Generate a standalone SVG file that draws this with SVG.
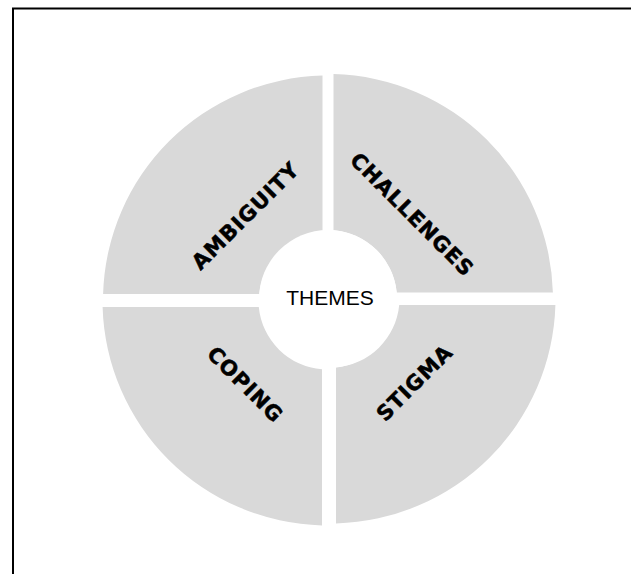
<svg xmlns="http://www.w3.org/2000/svg" width="631" height="574" viewBox="0 0 631 574">
<style>
.q{fill:#d9d9d9;stroke:none}
.lbl{font-family:"DejaVu Sans","Liberation Sans",Arial,sans-serif;font-weight:bold;font-size:21px;letter-spacing:1px;fill:#000;stroke:#000;stroke-width:0.5;text-anchor:middle}
.ctr{font-family:"Liberation Sans",Arial,sans-serif;font-size:21px;fill:#000;text-anchor:middle}
</style>
<rect x="13" y="8.5" width="640" height="600" fill="#fff" stroke="#000" stroke-width="2"/>
<g transform="translate(328,299)">
<g id="ambiguity" transform="translate(0,1.5)">
<path class="q" d="M -5.5,-224.9 A 225 225 0 0 0 -224.9,-6.5 L -68.7,-6.5 A 69 69 0 0 1 -5.5,-68.8 Z"/>
</g>
<g id="challenges">
<path class="q" d="M 5.5,-224.9 A 225 225 0 0 1 224.9,-6.5 L 68.7,-6.5 A 69 69 0 0 0 5.5,-68.8 Z"/>
</g>
<g id="stigma" transform="translate(2.5,-0.5)">
<path class="q" d="M 224.9,6.5 A 225 225 0 0 1 5.5,224.9 L 5.5,68.8 A 69 69 0 0 0 68.7,6.5 Z"/>
</g>
<g id="coping" transform="translate(-0.5,1.5)">
<path class="q" d="M -5.5,224.9 A 225 225 0 0 1 -224.9,6.5 L -68.7,6.5 A 69 69 0 0 0 -5.5,68.8 Z"/>
</g>
</g>
<g id="themes">
<circle cx="328" cy="299" r="69" fill="#fff"/>
<text class="ctr" x="330" y="305">THEMES</text>
</g>
<g id="labels">
<text class="lbl" transform="translate(245,216) rotate(-45)" x="0.5" y="7.5">AMBIGUITY</text>
<text class="lbl" transform="translate(412,214) rotate(45)" x="0.5" y="7.5">CHALLENGES</text>
<text class="lbl" transform="translate(245,384) rotate(45)" x="0.5" y="7.5">COPING</text>
<text class="lbl" transform="translate(414,383) rotate(-45)" x="0.5" y="7.5">STIGMA</text>
</g>
<g id="connectors"></g>
</svg>
